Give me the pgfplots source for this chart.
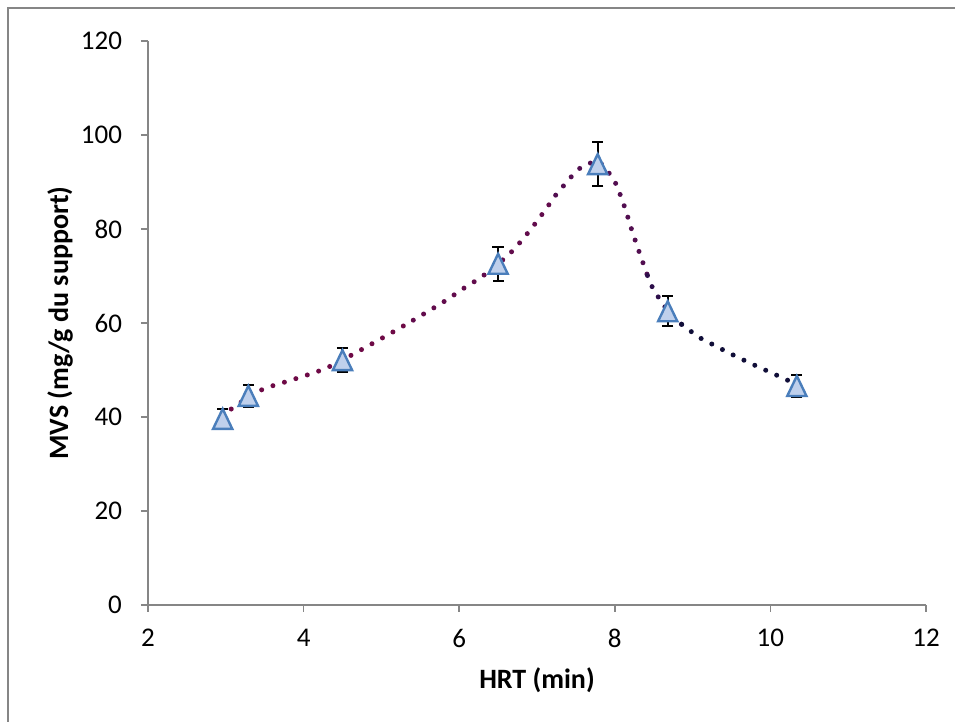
\documentclass[border=0pt]{standalone}
\usepackage{fontspec}
\setmainfont{Carlito}
\usepackage{pgfplots}
\pgfplotsset{compat=1.18}
\usepackage{pgfplotstable}
\definecolor{axgray}{HTML}{868686}
\definecolor{mkfill}{HTML}{BFD0EC}
\definecolor{mkdraw}{HTML}{4A7EBB}
\definecolor{cA}{HTML}{6E0A46}
\definecolor{cB}{HTML}{620C4C}
\definecolor{cC}{HTML}{520E50}
\definecolor{cD}{HTML}{2C0E4A}
\definecolor{cE}{HTML}{100E38}
\pgfdeclareplotmark{tri}{%
  \pgfpathmoveto{\pgfqpoint{0pt}{5pt}}%
  \pgfpathlineto{\pgfqpoint{4.8pt}{-5pt}}%
  \pgfpathlineto{\pgfqpoint{-4.8pt}{-5pt}}%
  \pgfpathclose
  \pgfusepathqfillstroke
}
\pgfplotstableread{
x y e
2.96 39.6 2.0
3.29 44.5 2.3
4.50 52.1 2.6
6.50 72.6 3.6
7.78 93.8 4.7
8.68 62.5 3.2
10.34 46.6 2.3
}\datapts
\pgfplotstableread{
x y
3.07 41.7
3.45 45.7
3.89 48.1
4.33 50.7
5.00 56.7
5.41 60.6
}\segA
\pgfplotstableread{
x y
5.41 60.6
5.80 64.5
6.06 67.4
6.32 70.2
6.67 75.1
6.97 81.0
7.24 87.2
}\segB
\pgfplotstableread{
x y
7.24 87.2
7.44 91.1
7.55 92.9
7.68 94.0
7.80 94.2
7.94 91.6
8.02 89.4
8.13 84.5
8.22 79.7
8.32 74.8
8.42 70.1
}\segC
\pgfplotstableread{
x y
8.42 70.1
8.48 67.7
8.56 65.5
8.70 62.2
8.86 59.7
}\segD
\pgfplotstableread{
x y
8.86 59.7
8.98 58.2
9.11 56.7
9.25 55.5
9.52 53.2
9.80 51.0
10.08 48.9
10.25 47.6
}\segE
\begin{document}
\begin{tikzpicture}
\path[use as bounding box] (-74pt,-58.5pt) rectangle (403.5pt,302.5pt);
\fill[white] (-74pt,-58.5pt) rectangle (403.5pt,302.5pt);
\draw[axgray, line width=0.75pt] (-70pt,-60pt) -- (-70pt,298.5pt) -- (405pt,298.5pt);
\begin{axis}[
  at={(0,0)}, anchor=south west,
  scale only axis, width=389pt, height=282pt,
  xmin=2, xmax=12, ymin=0, ymax=120,
  xtick={2,4,...,12}, ytick={0,20,...,120},
  axis lines*=left,
  axis line style={draw=axgray, line width=0.75pt},
  tick style={draw=axgray, line width=0.75pt},
  tick align=outside, major tick length=3.5pt,
  /pgf/number format/assume math mode=true,
  tick label style={font=\fontsize{13.5}{16}\selectfont},
  xticklabel style={yshift=-5pt},
  yticklabel style={xshift=-6pt},
  xlabel={HRT (min)}, ylabel={MVS (mg/g du support)},
  label style={font=\fontsize{14}{17}\selectfont\bfseries},
  xlabel style={at={(axis description cs:0.5,0)}, anchor=center, yshift=-37.5pt},
  ylabel style={at={(axis description cs:0,0.5)}, anchor=center, yshift=44pt},
  clip=false,
]
\addplot[cA, line width=2.5pt, line cap=round, dash pattern=on 0pt off 6pt, smooth, tension=0.5] table[x=x,y=y] {\segA};
\addplot[cB, line width=2.5pt, line cap=round, dash pattern=on 0pt off 6pt, smooth, tension=0.5] table[x=x,y=y] {\segB};
\addplot[cC, line width=2.5pt, line cap=round, dash pattern=on 0pt off 6pt, smooth, tension=0.5] table[x=x,y=y] {\segC};
\addplot[cD, line width=2.5pt, line cap=round, dash pattern=on 0pt off 6pt, smooth, tension=0.5] table[x=x,y=y] {\segD};
\addplot[cE, line width=2.5pt, line cap=round, dash pattern=on 0pt off 6pt, smooth, tension=0.5] table[x=x,y=y] {\segE};
\addplot[only marks, mark=tri, mark options={fill=mkfill, draw=mkdraw, line width=1.2pt},
  error bars/.cd, y dir=both, y explicit,
  error bar style={black, line width=1pt},
  error mark options={black, mark size=2.8pt, line width=1pt, rotate=90}]
  table[x=x, y=y, y error=e] {\datapts};
\end{axis}
\end{tikzpicture}
\end{document}
